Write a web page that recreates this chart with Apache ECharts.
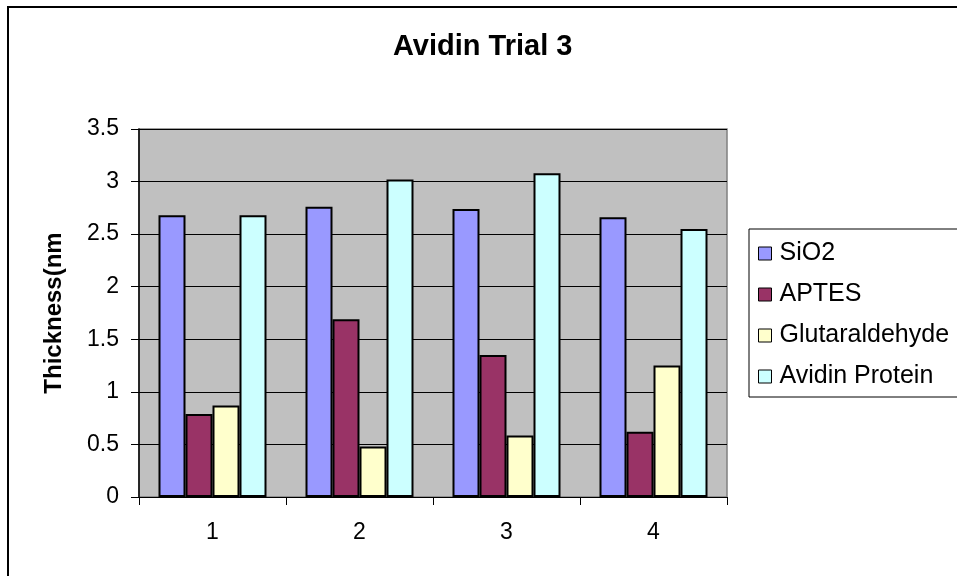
<!DOCTYPE html>
<html>
<head>
<meta charset="utf-8">
<script src="https://cdn.jsdelivr.net/npm/echarts@6/dist/echarts.min.js"></script>
<style>
  html, body { margin: 0; padding: 0; background: #fff; }
  #chart { width: 957px; height: 576px; }
</style>
</head>
<body>
<div id="chart"></div>
<script>
// Layer thickness (nm) measured after each coating step, four trials
var trials = ['1', '2', '3', '4'];
var sio2 = [2.68, 2.76, 2.74, 2.66];
var aptes = [0.79, 1.69, 1.35, 0.62];
var glutaraldehyde = [0.87, 0.48, 0.585, 1.25];
var avidinProtein = [2.68, 3.02, 3.08, 2.55];
var yTicks = [0, 0.5, 1, 1.5, 2, 2.5, 3, 3.5];

var FONT = "'Liberation Sans', Arial, sans-serif";

function barSeries(name, data, color) {
  return {
    name: name,
    type: 'bar',
    data: data,
    barWidth: 27,
    barGap: '0%',
    itemStyle: { color: color, borderColor: '#000', borderWidth: 2 }
  };
}

var chart = echarts.init(document.getElementById('chart'), null, { renderer: 'canvas' });
chart.setOption({
  animation: false,
  backgroundColor: '#fff',
  textStyle: { fontFamily: FONT },
  title: {
    text: 'Avidin Trial 3',
    left: 393,
    top: 32,
    padding: 0,
    textStyle: { fontFamily: FONT, fontSize: 29, fontWeight: 'bold', color: '#000' }
  },
  graphic: [{
    type: 'rect',
    shape: { x: 8, y: 7, width: 960, height: 580 },
    style: { fill: 'none', stroke: '#000', lineWidth: 2 },
    silent: true
  }],
  legend: {
    orient: 'vertical',
    left: 749,
    top: 229,
    padding: [12, 20, 8, 9],
    itemWidth: 13,
    itemHeight: 13,
    itemGap: 16,
    icon: 'rect',
    borderColor: '#000',
    borderWidth: 1,
    backgroundColor: '#fff',
    itemStyle: { borderColor: '#000', borderWidth: 1 },
    textStyle: { fontFamily: FONT, fontSize: 25, lineHeight: 24, color: '#000', padding: [0, 0, 0, 3] },
    data: ['SiO2', 'APTES', 'Glutaraldehyde', 'Avidin Protein']
  },
  grid: {
    left: 139,
    top: 129,
    width: 588,
    height: 368,
    show: true,
    backgroundColor: '#C0C0C0',
    borderColor: '#808080',
    borderWidth: 1.5,
    containLabel: false
  },
  xAxis: {
    type: 'category',
    data: trials,
    boundaryGap: true,
    axisLine: { lineStyle: { color: '#000', width: 1 } },
    axisTick: { show: true, length: 8, lineStyle: { color: '#000' } },
    axisLabel: { color: '#000', fontSize: 23, fontFamily: FONT, margin: 24 },
    splitLine: { show: false }
  },
  yAxis: {
    type: 'value',
    min: yTicks[0],
    max: yTicks[yTicks.length - 1],
    interval: 0.5,
    name: 'Thickness(nm',
    nameLocation: 'middle',
    nameGap: 73,
    nameTextStyle: { fontFamily: FONT, fontSize: 24, fontWeight: 'bold', color: '#000' },
    axisLine: { show: true, lineStyle: { color: '#000', width: 1.5 } },
    axisTick: { show: true, length: 8, lineStyle: { color: '#000' } },
    axisLabel: { color: '#000', fontSize: 23, fontFamily: FONT, margin: 20 },
    splitLine: { show: true, lineStyle: { color: '#000', width: 1 } }
  },
  series: [
    barSeries('SiO2', sio2, '#9999FF'),
    barSeries('APTES', aptes, '#993366'),
    barSeries('Glutaraldehyde', glutaraldehyde, '#FFFFCC'),
    barSeries('Avidin Protein', avidinProtein, '#CCFFFF')
  ]
});
</script>
</body>
</html>
